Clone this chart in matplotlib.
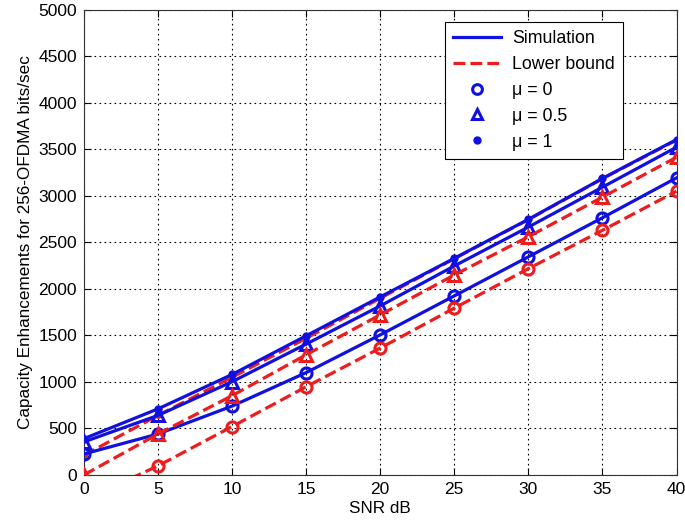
import numpy as np
import matplotlib
matplotlib.use("Agg")
import matplotlib.pyplot as plt
from matplotlib.lines import Line2D

plt.rcParams['font.family'] = ['Liberation Sans', 'DejaVu Sans']

snr = [0, 5, 10, 15, 20, 25, 30, 35, 40]

# simulation (blue, solid)
sim_mu0 = [225, 440, 740, 1100, 1506, 1925, 2345, 2765, 3194]
sim_mu05 = [355, 640, 1002, 1407, 1817, 2247, 2665, 3094, 3524]
sim_mu1 = [390, 710, 1080, 1496, 1914, 2329, 2748, 3188, 3606]

# lower bound (red, dashed)
lb_mu0 = [-270, 97, 520, 948, 1364, 1793, 2218, 2630, 3051]
lb_mu05 = [0, 440, 852, 1292, 1721, 2150, 2561, 2987, 3416]
lb_mu1 = [212, 640, 1050, 1470, 1900, 2325, 2745, 3185, 3600]

fig = plt.figure(figsize=(6.85, 5.23), dpi=100)
ax = fig.add_axes([0.1226, 0.092, 0.865, 0.889])

blue = '#1010e0'
red = '#ee1c1c'
lw = 2.3
ax.plot(snr, lb_mu1, '--', color=red, lw=lw, marker='.', ms=8, zorder=2)
ax.plot(snr, sim_mu0, '-', color=blue, lw=lw, marker='o', ms=8, mfc='none', mew=2.2, zorder=3)
ax.plot(snr, sim_mu05, '-', color=blue, lw=lw, marker='^', ms=8, mfc='none', mew=2.2, zorder=3)
ax.plot(snr, sim_mu1, '-', color=blue, lw=lw, marker='.', ms=10, zorder=3)
ax.plot(snr, lb_mu0, '--', color=red, lw=lw, marker='o', ms=8, mfc='none', mew=2.2, zorder=4)
ax.plot(snr, lb_mu05, '--', color=red, lw=lw, marker='^', ms=8, mfc='none', mew=2.2, zorder=4)

ax.set_xlim(0, 40)
ax.set_ylim(0, 5000)
ax.set_xticks(np.arange(0, 41, 5))
ax.set_yticks(np.arange(0, 5001, 500))
ax.grid(True, color='black', linestyle=(0, (1.5, 3)), linewidth=0.8)
ax.tick_params(direction='in', top=True, right=True, labelsize=12.5, length=5, pad=5)
for s in ax.spines.values():
	s.set_linewidth(0.8)
	s.set_color('#333333')

ax.set_xlabel('SNR dB', fontsize=12.3, labelpad=3)
ax.set_ylabel('Capacity Enhancements for 256-OFDMA bits/sec', fontsize=12.3, labelpad=4)

handles = [
	Line2D([], [], color=blue, lw=lw, ls='-'),
	Line2D([], [], color=red, lw=lw, ls='--'),
	Line2D([], [], color=blue, ls='none', marker='o', ms=7, mfc='none', mew=2.2),
	Line2D([], [], color=blue, ls='none', marker='^', ms=7, mfc='none', mew=2.2),
	Line2D([], [], color=blue, ls='none', marker='.', ms=10),
]
labels = ['Simulation', 'Lower bound', '\u03bc = 0', '\u03bc = 0.5', '\u03bc = 1']
leg = ax.legend(handles, labels, loc='upper right', bbox_to_anchor=(0.909, 0.974),
	borderaxespad=0, fontsize=12.8, fancybox=False, framealpha=1, edgecolor='black',
	handlelength=2.7, borderpad=0.45, labelspacing=0.5, handletextpad=0.6)
leg.get_frame().set_linewidth(0.8)

plt.savefig('out.png', dpi=100)
